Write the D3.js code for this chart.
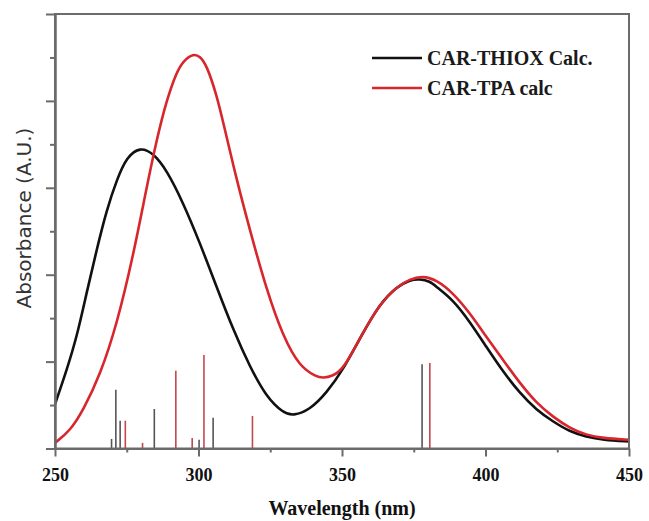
<!DOCTYPE html>
<html>
<head>
<meta charset="utf-8">
<script src="https://cdn.jsdelivr.net/npm/d3@7"></script>
<style>
  body { margin: 0; background: #fff; }
  svg { display: block; }
</style>
</head>
<body>
<div id="chart"></div>
<script>
// wavelength (nm) / absorbance (arbitrary units, 0..10 on the frame)
const thioxNm  = [250, 254.1, 257.6, 261.0, 264.5, 268.0, 271.5, 275.0, 279.6, 284.2, 288.9, 294.7, 300.5, 306.3, 312.1, 317.9, 323.7, 329.5, 333.0, 338.8, 344.6, 350.4, 357.4, 363.2, 369.0, 373.6, 377.1, 380.6, 382.9, 388.7, 394.5, 400.3, 406.1, 411.9, 417.7, 423.5, 429.3, 435.1, 440.9, 450];
const thioxAbs = [1.02, 1.81, 2.57, 3.58, 4.57, 5.49, 6.18, 6.71, 6.94, 6.80, 6.41, 5.65, 4.73, 3.72, 2.73, 1.88, 1.18, 0.82, 0.75, 0.89, 1.28, 1.81, 2.68, 3.33, 3.72, 3.88, 3.90, 3.85, 3.72, 3.42, 2.92, 2.34, 1.77, 1.28, 0.89, 0.62, 0.39, 0.27, 0.20, 0.16];

const tpaNm  = [250, 255.2, 259.9, 265.7, 271.5, 277.3, 281.9, 285.4, 288.9, 292.4, 294.7, 298.2, 300.5, 302.8, 306.3, 308.6, 313.3, 317.9, 323.7, 329.5, 335.3, 341.1, 343.4, 346.8, 350.4, 357.4, 363.2, 369.0, 373.6, 378.2, 382.9, 388.7, 394.5, 400.3, 406.1, 411.9, 417.7, 423.5, 429.3, 435.1, 440.9, 450];
const tpaAbs = [0.13, 0.40, 0.89, 1.69, 2.84, 4.45, 6.00, 7.10, 8.02, 8.67, 8.92, 9.09, 9.03, 8.83, 8.14, 7.51, 6.18, 5.03, 3.65, 2.57, 1.88, 1.65, 1.62, 1.67, 1.81, 2.68, 3.33, 3.72, 3.90, 3.97, 3.88, 3.58, 3.12, 2.57, 2.04, 1.51, 1.05, 0.73, 0.47, 0.31, 0.24, 0.20];

// calculated transitions (sticks)
const thioxStickNm = [269.7, 271.2, 272.7, 284.6, 300.2, 305.1, 377.9];
const thioxStickH  = [0.22, 1.35, 0.64, 0.91, 0.20, 0.71, 1.94];
const tpaStickNm = [274.5, 280.5, 292.1, 297.8, 301.9, 318.8, 380.6];
const tpaStickH  = [0.64, 0.13, 1.79, 0.24, 2.15, 0.75, 1.97];

const xMajor = [250, 300, 350, 400, 450];
const xMinor = [275, 325, 375, 425];
const yMajor = [0, 2, 4, 6, 8, 10];
const yMinor = [1, 3, 5, 7, 9];

const seriesNames = ["CAR-THIOX Calc.", "CAR-TPA calc"];
const seriesColors = ["#111111", "#d8262d"];
const stickColors = ["#555555", "#c4474c"];

const W = 649, H = 521;
const margin = { top: 14, right: 20, bottom: 72.5, left: 55 };
const width = W - margin.left - margin.right;
const height = H - margin.top - margin.bottom;

const svg = d3.select("#chart").append("svg")
  .attr("width", W)
  .attr("height", H);

const g = svg.append("g")
  .attr("transform", `translate(${margin.left},${margin.top})`);

const x = d3.scaleLinear().domain([250, 450]).range([0, width]);
const y = d3.scaleLinear().domain([0, 10]).range([height, 0]);

const axisColor = "#6b6b6b";
const serif = "'Liberation Serif', 'DejaVu Serif', serif";

// sticks
const sticks = [
  { nm: thioxStickNm, h: thioxStickH, color: stickColors[0] },
  { nm: tpaStickNm, h: tpaStickH, color: stickColors[1] }
];
sticks.forEach(s => {
  g.append("g").selectAll("line")
    .data(s.nm.map((d, i) => ({ nm: d, h: s.h[i] })))
    .join("line")
    .attr("x1", d => x(d.nm)).attr("x2", d => x(d.nm))
    .attr("y1", y(0)).attr("y2", d => y(d.h))
    .attr("stroke", s.color)
    .attr("stroke-width", 1.6);
});

// curves (points were read by eye, so smooth them a little)
const line = d3.line()
  .x(d => x(d[0]))
  .y(d => y(d[1]))
  .curve(d3.curveBasis);

const curves = [
  { nm: thioxNm, a: thioxAbs, color: seriesColors[0] },
  { nm: tpaNm, a: tpaAbs, color: seriesColors[1] }
];
curves.forEach(c => {
  g.append("path")
    .datum(c.nm.map((d, i) => [d, c.a[i]]))
    .attr("fill", "none")
    .attr("stroke", c.color)
    .attr("stroke-width", 2.6)
    .attr("d", line);
});

// frame
g.append("rect")
  .attr("width", width).attr("height", height)
  .attr("fill", "none")
  .attr("stroke", axisColor)
  .attr("stroke-width", 2);

// x axis
const xAxis = g.append("g")
  .attr("transform", `translate(0,${height})`)
  .call(d3.axisBottom(x).tickValues(xMajor).tickSize(8).tickSizeOuter(0).tickFormat(d3.format("d")));
g.append("g")
  .attr("transform", `translate(0,${height})`)
  .call(d3.axisBottom(x).tickValues(xMinor).tickSize(4).tickSizeOuter(0).tickFormat(""));

// y axis (no labels)
g.append("g")
  .call(d3.axisLeft(y).tickValues(yMajor).tickSize(9).tickSizeOuter(0).tickFormat(""));
g.append("g")
  .call(d3.axisLeft(y).tickValues(yMinor).tickSize(5).tickSizeOuter(0).tickFormat(""));

g.selectAll(".domain").attr("stroke", axisColor).attr("stroke-width", 2);
g.selectAll(".tick line").attr("stroke", axisColor).attr("stroke-width", 2);

xAxis.selectAll(".tick text")
  .attr("dy", 0)
  .attr("y", 32)
  .attr("fill", "#111")
  .style("font-family", serif)
  .style("font-weight", "bold")
  .style("font-size", "18px");

// axis titles
svg.append("text")
  .attr("x", margin.left + width / 2)
  .attr("y", 515)
  .attr("text-anchor", "middle")
  .attr("fill", "#111")
  .style("font-family", serif)
  .style("font-weight", "bold")
  .style("font-size", "20px")
  .text("Wavelength (nm)");

svg.append("text")
  .attr("transform", "translate(31,218) rotate(-90)")
  .attr("text-anchor", "middle")
  .attr("fill", "#333")
  .style("font-family", "'DejaVu Sans', sans-serif")
  .style("font-size", "20px")
  .text("Absorbance (A.U.)");

// legend
const legend = svg.append("g").attr("transform", "translate(372,58)");
seriesNames.forEach((name, i) => {
  const row = legend.append("g").attr("transform", `translate(0,${i * 30})`);
  row.append("line")
    .attr("x1", 0).attr("x2", 50)
    .attr("stroke", seriesColors[i])
    .attr("stroke-width", 2.6);
  row.append("text")
    .attr("x", 55)
    .attr("y", 7)
    .attr("fill", "#1a1a1a")
    .style("font-family", serif)
    .style("font-weight", "bold")
    .style("font-size", "20px")
    .text(name);
});
</script>
</body>
</html>
